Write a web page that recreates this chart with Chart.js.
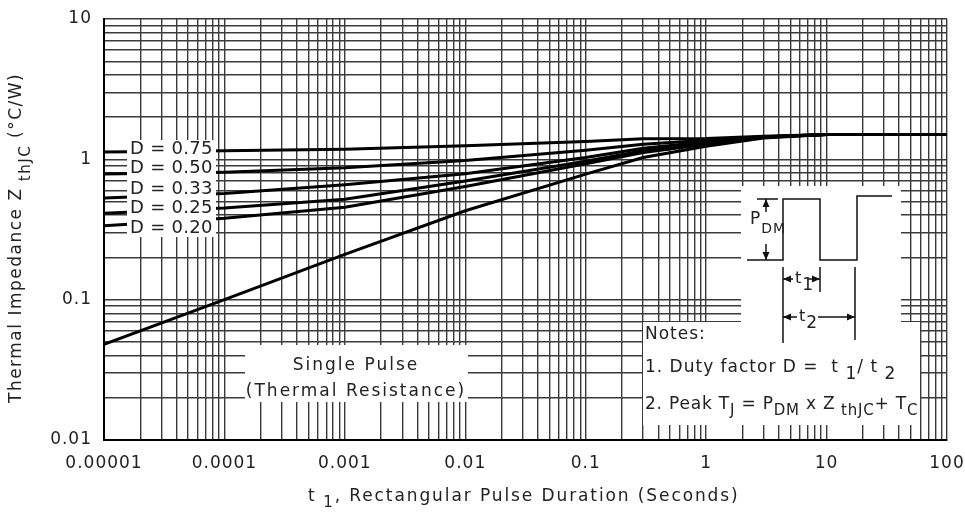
<!DOCTYPE html>
<html>
<head>
<meta charset="utf-8">
<script src="https://cdn.jsdelivr.net/npm/chart.js@4.4.1/dist/chart.umd.min.js"></script>
<style>
  html, body { margin: 0; padding: 0; background: #fff; }
</style>
</head>
<body>
<canvas id="zthChart" width="965" height="514"></canvas>
<script>
// durées d'impulsion (s) et impédance thermique (°C/W)
const pulseTimes = [1e-5, 1e-4, 1e-3, 0.01, 0.1, 0.3, 1, 3, 10, 100];
const zD075  = [1.13, 1.15, 1.18, 1.25, 1.34, 1.40, 1.41, 1.46, 1.50, 1.50];
const zD050  = [0.785, 0.81, 0.87, 0.98, 1.16, 1.28, 1.37, 1.45, 1.50, 1.50];
const zD033  = [0.53, 0.57, 0.66, 0.79, 1.03, 1.20, 1.33, 1.44, 1.50, 1.50];
const zD025  = [0.413, 0.45, 0.52, 0.70, 0.97, 1.15, 1.30, 1.44, 1.50, 1.50];
const zD020  = [0.336, 0.38, 0.455, 0.64, 0.93, 1.12, 1.28, 1.43, 1.50, 1.50];
const zSingle = [0.048, 0.10, 0.21, 0.43, 0.785, 1.03, 1.24, 1.42, 1.50, 1.50];

const xTickLabels = ['0.00001', '0.0001', '0.001', '0.01', '0.1', '1', '10', '100'];
const yTickLabels = ['0.01', '0.1', '1', '10'];
const dutyLabels = ['D = 0.75', 'D = 0.50', 'D = 0.33', 'D = 0.25', 'D = 0.20'];

const FONT = '"DejaVu Sans"';
const INK = '#222';

// valeurs de grille 1..9 x 10^n entre deux bornes
function logGrid(minExp, maxExp) {
    const vals = [];
    for (let e = minExp; e < maxExp; e++) {
        for (let m = 1; m < 10; m++) vals.push(m * Math.pow(10, e));
    }
    vals.push(Math.pow(10, maxExp));
    return vals;
}

function decadeLabel(value, labels, minExp) {
    const e = Math.log10(value);
    const r = Math.round(e);
    if (Math.abs(e - r) < 1e-6) return labels[r - minExp] || '';
    return '';
}

// texte avec indices
function richText(ctx, parts, x, y, o) {
    ctx.letterSpacing = (o.spacing || 0) + 'px';
    let total = 0;
    for (const [txt, sub] of parts) {
        ctx.font = (sub ? o.sub : o.size) + 'px ' + FONT;
        total += ctx.measureText(txt).width;
    }
    let cx = o.align === 'center' ? x - total / 2 : x;
    for (const [txt, sub] of parts) {
        ctx.font = (sub ? o.sub : o.size) + 'px ' + FONT;
        ctx.fillText(txt, cx, y + (sub ? o.shift : 0));
        cx += ctx.measureText(txt).width;
    }
}

function arrowHead(ctx, x, y, dir) {
    const L = 8, W = 3.5;
    ctx.beginPath();
    if (dir === 'up')    { ctx.moveTo(x, y); ctx.lineTo(x - W, y + L); ctx.lineTo(x + W, y + L); }
    if (dir === 'down')  { ctx.moveTo(x, y); ctx.lineTo(x - W, y - L); ctx.lineTo(x + W, y - L); }
    if (dir === 'left')  { ctx.moveTo(x, y); ctx.lineTo(x + L, y - W); ctx.lineTo(x + L, y + W); }
    if (dir === 'right') { ctx.moveTo(x, y); ctx.lineTo(x - L, y - W); ctx.lineTo(x - L, y + W); }
    ctx.closePath();
    ctx.fill();
}

function line(ctx, pts) {
    ctx.beginPath();
    ctx.moveTo(pts[0][0], pts[0][1]);
    for (let i = 1; i < pts.length; i++) ctx.lineTo(pts[i][0], pts[i][1]);
    ctx.stroke();
}

// encarts, schéma et titres des axes
const overlayPlugin = {
    id: 'overlay',
    beforeDraw(chart) {
        chart.ctx.letterSpacing = '1px';
    },
    afterDatasetsDraw(chart) {
        const ctx = chart.ctx;
        ctx.save();
        ctx.fillStyle = '#fff';
        ctx.fillRect(127, 140, 89, 97);      // étiquettes D
        ctx.fillRect(245, 345, 223, 57);     // single pulse
        ctx.fillRect(741, 186, 160, 137);    // schéma
        ctx.fillRect(643, 322, 277, 103);    // notes

        ctx.fillStyle = INK;
        ctx.textBaseline = 'middle';
        ctx.textAlign = 'left';
        const dY = [149, 168, 189, 208, 228];
        dutyLabels.forEach((t, i) => {
            richText(ctx, [[t, false]], 130, dY[i], {size: 18, spacing: 0.3});
        });

        richText(ctx, [['Single Pulse', false]], 356, 366, {size: 17, spacing: 2, align: 'center'});
        richText(ctx, [['(Thermal Resistance)', false]], 356, 392, {size: 17, spacing: 2, align: 'center'});

        // forme d'onde
        ctx.strokeStyle = '#111';
        ctx.lineWidth = 1.5;
        line(ctx, [[747, 260], [783, 260], [783, 199], [820, 199], [820, 260], [857, 260], [857, 196], [892, 196]]);
        line(ctx, [[757, 199], [778, 199]]);
        ctx.fillStyle = '#111';
        line(ctx, [[766, 199], [766, 212]]);
        arrowHead(ctx, 766, 199, 'up');
        line(ctx, [[766, 244], [766, 260]]);
        arrowHead(ctx, 766, 260, 'down');
        ctx.fillStyle = INK;
        richText(ctx, [['P', false], ['DM', true]], 750, 220, {size: 17, sub: 14, shift: 9, spacing: 1});

        // t1, t2
        ctx.fillStyle = '#111';
        line(ctx, [[783, 267], [783, 343]]);
        line(ctx, [[820, 267], [820, 292]]);
        line(ctx, [[855, 267], [855, 340]]);
        line(ctx, [[783, 279], [793, 279]]);
        arrowHead(ctx, 783, 279, 'left');
        line(ctx, [[808, 279], [820, 279]]);
        arrowHead(ctx, 820, 279, 'right');
        line(ctx, [[783, 317], [797, 317]]);
        arrowHead(ctx, 783, 317, 'left');
        line(ctx, [[818, 317], [855, 317]]);
        arrowHead(ctx, 855, 317, 'right');
        ctx.fillStyle = INK;
        richText(ctx, [['t', false], ['1', true]], 795, 279, {size: 16, sub: 17, shift: 7, spacing: 1});
        richText(ctx, [['t', false], ['2', true]], 799, 317, {size: 16, sub: 17, shift: 7, spacing: 1});

        // notes
        const nO = {size: 17, sub: 17, shift: 7, spacing: 1};
        richText(ctx, [['Notes:', false]], 645, 335, nO);
        richText(ctx, [['1. Duty factor D =  t', false], [' 1', true], ['/ t', false], [' 2', true]], 645, 368, nO);
        richText(ctx, [['2. Peak T', false], ['J', true], [' = P', false], ['DM', true], [' x Z', false],
                       [' thJC', true], ['+ T', false], ['C', true]], 645, 405, {size: 17, sub: 15, shift: 6, spacing: 0.8});

        // titres des axes
        richText(ctx, [['t', false], [' 1', true], [', Rectangular Pulse Duration (Seconds)', false]],
                 308, 497, {size: 17, sub: 15, shift: 6, spacing: 1.9});
        ctx.save();
        ctx.translate(17, 403);
        ctx.rotate(-Math.PI / 2);
        richText(ctx, [['Thermal Impedance Z', false], [' thJC', true], [' (°C/W)', false]],
                 0, 0, {size: 17, sub: 15, shift: 9, spacing: 1.5});
        ctx.restore();
        ctx.restore();
    }
};

const toPoints = arr => arr.map((z, i) => ({x: pulseTimes[i], y: z}));
const curve = arr => ({
    data: toPoints(arr),
    borderColor: '#000',
    borderWidth: 3,
    pointRadius: 0,
    tension: 0,
    fill: false
});

const gridStyle = {color: '#3a3a3a', lineWidth: 1.4, drawTicks: false};
const tickFont = {family: 'DejaVu Sans', size: 17};

const ctx = document.getElementById('zthChart').getContext('2d');
const zthChart = new Chart(ctx, {
    type: 'line',
    data: {
        datasets: [curve(zD075), curve(zD050), curve(zD033), curve(zD025), curve(zD020), curve(zSingle)]
    },
    options: {
        responsive: false,
        animation: false,
        layout: {padding: {top: 19, right: 18, left: 0, bottom: 0}},
        plugins: {
            legend: {display: false},
            tooltip: {enabled: false}
        },
        scales: {
            x: {
                type: 'logarithmic',
                min: 1e-5,
                max: 100,
                grid: gridStyle,
                border: {color: '#000', width: 2},
                afterBuildTicks: s => { s.ticks = logGrid(-5, 2).map(v => ({value: v})); },
                afterFit: s => { s.height = 74; s.paddingLeft = 0; s.paddingRight = 0; },
                ticks: {
                    autoSkip: false,
                    maxRotation: 0,
                    padding: 13,
                    color: INK,
                    font: tickFont,
                    callback: v => decadeLabel(v, xTickLabels, -5)
                }
            },
            y: {
                type: 'logarithmic',
                min: 0.01,
                max: 10,
                grid: gridStyle,
                border: {color: '#000', width: 2},
                afterBuildTicks: s => { s.ticks = logGrid(-2, 1).map(v => ({value: v})); },
                afterFit: s => { s.width = 104; s.paddingTop = 0; s.paddingBottom = 0; },
                ticks: {
                    autoSkip: false,
                    padding: 12,
                    color: INK,
                    font: tickFont,
                    callback: v => decadeLabel(v, yTickLabels, -2)
                }
            }
        }
    },
    plugins: [overlayPlugin]
});
</script>
</body>
</html>
